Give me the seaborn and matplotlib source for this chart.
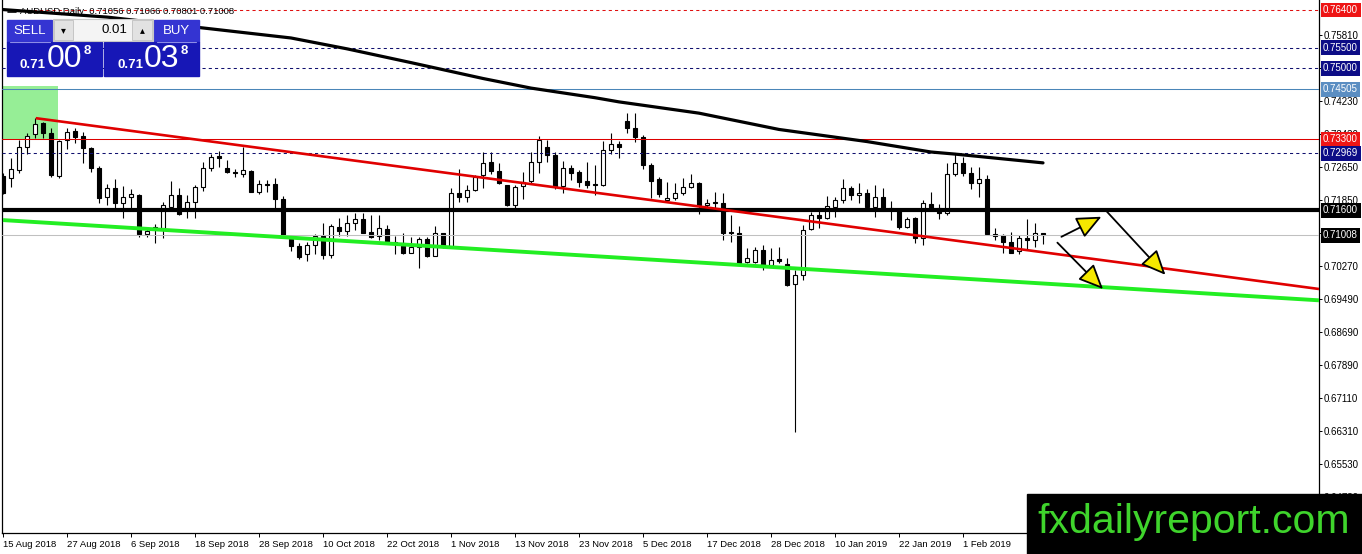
import numpy as np
import pandas as pd
import seaborn as sns
import matplotlib.pyplot as plt
from matplotlib.patches import Rectangle, FancyArrowPatch
from matplotlib.transforms import blended_transform_factory

sns.set_style("white")
plt.rcParams['font.family'] = ['Liberation Sans', 'DejaVu Sans']

W, H = 1362, 554

# AUDUSD daily candles (bar index 0 = 15 Aug 2018)
bar_open = [
    0.7243, 0.7238, 0.7257, 0.7312, 0.7343, 0.7369, 0.7346, 0.7243, 0.7329, 0.7350,
    0.7338, 0.7310, 0.7262, 0.7192, 0.7214, 0.7178, 0.7192, 0.7197, 0.7104, 0.7118,
    0.7118, 0.7168, 0.7197, 0.7164, 0.7180, 0.7216, 0.7262, 0.7290, 0.7262, 0.7252,
    0.7247, 0.7255, 0.7204, 0.7223, 0.7223, 0.7188, 0.7092, 0.7075, 0.7056, 0.7077,
    0.7099, 0.7053, 0.7121, 0.7111, 0.7130, 0.7140, 0.7109, 0.7099, 0.7116, 0.7085,
    0.7082, 0.7058, 0.7073, 0.7092, 0.7051, 0.7106, 0.7073, 0.7202, 0.7192, 0.7209,
    0.7245, 0.7276, 0.7255, 0.7221, 0.7173, 0.7219, 0.7231, 0.7276, 0.7312, 0.7293,
    0.7219, 0.7262, 0.7252, 0.7231, 0.7223, 0.7221, 0.7305, 0.7319, 0.7374, 0.7358,
    0.7336, 0.7269, 0.7235, 0.7185, 0.7190, 0.7202, 0.7216, 0.7226, 0.7173, 0.7180,
    0.7178, 0.7109, 0.7106, 0.7037, 0.7037, 0.7065, 0.7030, 0.7044, 0.7032, 0.6984,
    0.7006, 0.7116, 0.7149, 0.7142, 0.7168, 0.7185, 0.7214, 0.7197, 0.7202, 0.7168,
    0.7192, 0.7166, 0.7161, 0.7121, 0.7142, 0.7094, 0.7176, 0.7166, 0.7154, 0.7247,
    0.7274, 0.7250, 0.7226, 0.7235, 0.7104, 0.7101, 0.7085, 0.7063, 0.7094, 0.7089,
    0.71056]
bar_high = [
    0.7250, 0.7286, 0.7329, 0.7346, 0.7381, 0.7372, 0.7358, 0.7329, 0.7358, 0.7358,
    0.7348, 0.7312, 0.7267, 0.7223, 0.7235, 0.7219, 0.7212, 0.7200, 0.7116, 0.7128,
    0.7180, 0.7231, 0.7214, 0.7197, 0.7221, 0.7276, 0.7295, 0.7302, 0.7281, 0.7259,
    0.7312, 0.7257, 0.7233, 0.7233, 0.7238, 0.7195, 0.7101, 0.7082, 0.7085, 0.7104,
    0.7130, 0.7128, 0.7142, 0.7149, 0.7154, 0.7154, 0.7149, 0.7149, 0.7125, 0.7099,
    0.7106, 0.7097, 0.7097, 0.7097, 0.7123, 0.7106, 0.7214, 0.7259, 0.7221, 0.7245,
    0.7300, 0.7300, 0.7274, 0.7221, 0.7221, 0.7252, 0.7300, 0.7338, 0.7329, 0.7300,
    0.7278, 0.7269, 0.7257, 0.7276, 0.7269, 0.7326, 0.7346, 0.7326, 0.7393, 0.7393,
    0.7341, 0.7274, 0.7240, 0.7228, 0.7226, 0.7238, 0.7247, 0.7228, 0.7188, 0.7204,
    0.7202, 0.7149, 0.7123, 0.7070, 0.7073, 0.7077, 0.7070, 0.7073, 0.7046, 0.7018,
    0.7125, 0.7156, 0.7161, 0.7195, 0.7192, 0.7235, 0.7219, 0.7226, 0.7211, 0.7221,
    0.7214, 0.7183, 0.7164, 0.7144, 0.7144, 0.7185, 0.7204, 0.7176, 0.7274, 0.7298,
    0.7288, 0.7264, 0.7264, 0.7245, 0.7118, 0.7104, 0.7109, 0.7101, 0.7140, 0.7130,
    0.71066]
bar_low = [
    0.7200, 0.7216, 0.7250, 0.7295, 0.7334, 0.7334, 0.7240, 0.7238, 0.7307, 0.7322,
    0.7274, 0.7252, 0.7178, 0.7173, 0.7166, 0.7142, 0.7166, 0.7097, 0.7097, 0.7082,
    0.7094, 0.7166, 0.7149, 0.7142, 0.7142, 0.7207, 0.7255, 0.7264, 0.7250, 0.7240,
    0.7240, 0.7204, 0.7200, 0.7204, 0.7166, 0.7097, 0.7063, 0.7044, 0.7039, 0.7056,
    0.7044, 0.7046, 0.7099, 0.7099, 0.7113, 0.7106, 0.7094, 0.7089, 0.7082, 0.7056,
    0.7056, 0.7058, 0.7022, 0.7049, 0.7051, 0.7070, 0.7073, 0.7180, 0.7180, 0.7207,
    0.7214, 0.7247, 0.7223, 0.7171, 0.7161, 0.7188, 0.7226, 0.7250, 0.7276, 0.7212,
    0.7202, 0.7233, 0.7216, 0.7214, 0.7197, 0.7219, 0.7295, 0.7286, 0.7346, 0.7324,
    0.7259, 0.7190, 0.7192, 0.7180, 0.7185, 0.7197, 0.7214, 0.7152, 0.7168, 0.7164,
    0.7089, 0.7085, 0.7032, 0.7034, 0.7034, 0.7018, 0.7025, 0.7034, 0.6979, 0.6630,
    0.6994, 0.7113, 0.7118, 0.7140, 0.7144, 0.7178, 0.7185, 0.7178, 0.7164, 0.7144,
    0.7161, 0.7137, 0.7116, 0.7118, 0.7082, 0.7077, 0.7159, 0.7140, 0.7149, 0.7243,
    0.7243, 0.7212, 0.7192, 0.7101, 0.7089, 0.7058, 0.7058, 0.7056, 0.7068, 0.7073,
    0.70801]
bar_close = [
    0.7202, 0.7259, 0.7312, 0.7338, 0.7367, 0.7346, 0.7245, 0.7326, 0.7348, 0.7336,
    0.7310, 0.7262, 0.7190, 0.7214, 0.7178, 0.7192, 0.7200, 0.7104, 0.7111, 0.7121,
    0.7173, 0.7197, 0.7152, 0.7180, 0.7216, 0.7262, 0.7288, 0.7286, 0.7252, 0.7250,
    0.7257, 0.7204, 0.7223, 0.7221, 0.7188, 0.7101, 0.7075, 0.7049, 0.7077, 0.7099,
    0.7053, 0.7123, 0.7111, 0.7130, 0.7140, 0.7106, 0.7097, 0.7118, 0.7085, 0.7082,
    0.7058, 0.7073, 0.7092, 0.7051, 0.7106, 0.7073, 0.7202, 0.7192, 0.7209, 0.7240,
    0.7274, 0.7255, 0.7226, 0.7173, 0.7216, 0.7228, 0.7276, 0.7329, 0.7293, 0.7219,
    0.7262, 0.7250, 0.7228, 0.7221, 0.7221, 0.7305, 0.7319, 0.7312, 0.7358, 0.7336,
    0.7269, 0.7231, 0.7200, 0.7190, 0.7202, 0.7216, 0.7226, 0.7173, 0.7178, 0.7178,
    0.7106, 0.7106, 0.7034, 0.7046, 0.7065, 0.7030, 0.7042, 0.7039, 0.6982, 0.7006,
    0.7113, 0.7149, 0.7142, 0.7171, 0.7185, 0.7214, 0.7197, 0.7202, 0.7168, 0.7192,
    0.7161, 0.7164, 0.7121, 0.7140, 0.7094, 0.7178, 0.7161, 0.7154, 0.7247, 0.7274,
    0.7250, 0.7226, 0.7235, 0.7104, 0.7099, 0.7085, 0.7058, 0.7094, 0.7089, 0.7106,
    0.71008]

# slow moving average, read at a few bars
ma_idx = [0, 13, 25, 36, 43, 51, 60, 66, 74, 77, 87, 97, 108, 116, 119, 130]
ma_val = [0.7641, 0.7623, 0.7597, 0.7573, 0.7547, 0.7514, 0.7476, 0.7453,
          0.7430, 0.7420, 0.7393, 0.7354, 0.7325, 0.7300, 0.7295, 0.7274]

# trend lines (bar, price) anchor pairs
red_trend = [(4.1, 0.7381), (130, 0.7060)]
green_trend = [(0, 0.7137), (130, 0.69852)]

# horizontal levels: price, line colour, label colour, style, width
levels = [
    (0.76400, '#e01010', '#ee1515', (0, (3, 3)), 1.0),
    (0.75500, '#10106e', '#0c0c86', (0, (3, 3)), 1.0),
    (0.75000, '#10106e', '#0c0c86', (0, (3, 3)), 1.0),
    (0.74505, '#4a86b8', '#5b8ec2', '-', 1.0),
    (0.73300, '#dd0000', '#ee1515', '-', 1.0),
    (0.72969, '#10106e', '#0c0c86', (0, (3, 3)), 1.0),
    (0.71600, 'black', 'black', '-', 4.0),
    (0.71008, '#c0c0c0', 'black', '-', 1.0),
]

price_ticks = [0.75810, 0.75020, 0.74230, 0.73430, 0.72650, 0.71850, 0.71060,
               0.70270, 0.69490, 0.68690, 0.67890, 0.67110, 0.66310, 0.65530, 0.64730]
date_ticks = list(range(0, 121, 8))
date_labels = ['15 Aug 2018', '27 Aug 2018', '6 Sep 2018', '18 Sep 2018', '28 Sep 2018',
               '10 Oct 2018', '22 Oct 2018', '1 Nov 2018', '13 Nov 2018', '23 Nov 2018',
               '5 Dec 2018', '17 Dec 2018', '28 Dec 2018', '10 Jan 2019', '22 Jan 2019',
               '1 Feb 2019']

# arrows drawn on the chart (bar, price) -> (bar, price)
arrows = [((132.3, 0.7097), (137.3, 0.7145)),
          ((138.0, 0.7157), (145.3, 0.7006)),
          ((131.8, 0.7083), (137.5, 0.6972))]

df = pd.DataFrame({'o': bar_open, 'h': bar_high, 'l': bar_low, 'c': bar_close})
df['idx'] = np.arange(len(df))
df['bull'] = df['c'] >= df['o']

fig = plt.figure(figsize=(W / 100, H / 100), dpi=100)
ax = fig.add_axes([2 / W, (H - 533) / H, 1317 / W, 533 / H])
ax.set_xlim(-0.125, 164.5)
ax.set_ylim(0.63879, 0.76639)

# green zone at the top left
ax.add_patch(Rectangle((-0.2, 0.7329), 7.1, 0.7458 - 0.7329, color='#96ee96', lw=0, zorder=0.5))

# candles
ax.vlines(df['idx'], df['l'], df['h'], color='black', lw=0.8, zorder=2)
bottoms = np.minimum(df['o'], df['c'])
heights = np.abs(df['c'] - df['o'])
ax.bar(df['idx'], heights, bottom=bottoms, width=0.62,
       color=np.where(df['bull'], 'white', 'black'), edgecolor='black', linewidth=0.8, zorder=3)

# horizontal lines
for price, col, lab_col, ls, lw in levels:
    ax.axhline(price, color=col, ls=ls, lw=lw * 0.75, zorder=4)

# trend lines extended to the right edge
for (x0, y0), (x1, y1), col, lw in [(red_trend[0], red_trend[1], '#e00000', 1.9),
                                     (green_trend[0], green_trend[1], '#22ee22', 2.8)]:
    slope = (y1 - y0) / (x1 - x0)
    xe = 164.5
    ax.plot([x0, xe], [y0, y0 + slope * (xe - x0)], color=col, lw=lw, zorder=4.5, solid_capstyle='butt')

sns.lineplot(x=ma_idx, y=ma_val, ax=ax, color='black', lw=2.3, zorder=4.6)

for (a, b) in arrows:
    ax.add_patch(FancyArrowPatch(a, b, arrowstyle='-|>,head_length=0.85,head_width=0.38',
                                 mutation_scale=18, facecolor='#f5e800', edgecolor='black',
                                 lw=1.3, zorder=6, shrinkA=0, shrinkB=0))

# axes styling
ax.spines['top'].set_visible(False)
for s in ['left', 'right', 'bottom']:
    ax.spines[s].set_color('black')
    ax.spines[s].set_linewidth(0.9)
ax.yaxis.tick_right()
ax.set_yticks(price_ticks)
ax.set_yticklabels([f'{v:.5f}' for v in price_ticks])
ax.tick_params(axis='y', right=True, left=False, length=2.2, width=0.7, pad=1.0, labelsize=7, colors='black')
ax.set_xticks(date_ticks)
ax.set_xticklabels(date_labels, ha='left')
ax.tick_params(axis='x', bottom=True, length=3, width=0.7, pad=2, labelsize=6.8, colors='black')
ax.set_xlabel('')
ax.set_ylabel('')

# level labels on the price scale
tr = blended_transform_factory(ax.transAxes, ax.transData)
for price, col, lab_col, ls, lw in levels:
    ax.text(1.0031, price, f'{price:.5f}', transform=tr, ha='left', va='center', color='white',
            fontsize=7, clip_on=False, zorder=10,
            bbox=dict(boxstyle='square,pad=0.25', fc=lab_col, ec='none'))

# overlay in pixel coordinates for panel, title and watermark
ov = fig.add_axes([0, 0, 1, 1], zorder=5)
ov.set_xlim(0, W)
ov.set_ylim(H, 0)
ov.axis('off')
ov.patch.set_alpha(0)

ov.text(20, 11.5, 'AUDUSD,Daily  0.71056 0.71066 0.70801 0.71008', fontsize=6.8, va='center', ha='left', color='black')
ov.plot([8, 16], [11.5, 11.5], color='black', lw=1.2)

# one-click trading panel
ov.add_patch(Rectangle((7, 20), 45, 22, color='#3434d2'))
ov.add_patch(Rectangle((154, 20), 45, 22, color='#3434d2'))
ov.add_patch(Rectangle((7, 42), 95, 34, color='#1717b6'))
ov.add_patch(Rectangle((104, 42), 95, 34, color='#1717b6'))
ov.plot([10, 50], [41.5, 41.5], color='#8c8ce6', lw=0.8)
ov.plot([157, 196], [41.5, 41.5], color='#8c8ce6', lw=0.8)
ov.add_patch(Rectangle((53, 19), 100, 22, fc='#f4f4f4', ec='#c8c8c8', lw=0.8))
ov.add_patch(Rectangle((54, 20), 19, 20, fc='#e2e2e2', ec='#c0c0c0', lw=0.6))
ov.add_patch(Rectangle((132, 20), 20, 20, fc='#e2e2e2', ec='#c0c0c0', lw=0.6))
ov.text(63.5, 30, '\u25be', fontsize=7, ha='center', va='center', color='black', family='DejaVu Sans')
ov.text(142, 30, '\u25b4', fontsize=7, ha='center', va='center', color='black', family='DejaVu Sans')
ov.text(127, 30, '0.01', fontsize=9.5, ha='right', va='center', color='black')
ov.text(29.5, 30.5, 'SELL', fontsize=9.5, ha='center', va='center', color='white')
ov.text(176.5, 30.5, 'BUY', fontsize=9.5, ha='center', va='center', color='white')
for x0, big in [(20, '00'), (117, '03')]:
    ov.text(x0, 65, '0.71', fontsize=9.5, fontweight='bold', ha='left', va='center', color='white')
    ov.text(x0 + 27, 59, big, fontsize=23, ha='left', va='center', color='white')
    ov.text(x0 + 64, 51, '8', fontsize=9.5, fontweight='bold', ha='left', va='center', color='white')

# watermark
ov.add_patch(Rectangle((1027, 494), 335, 60, color='black'))
ov.text(1194, 522, 'fxdailyreport.com', fontsize=29.5, ha='center', va='center', color='#3fd42c')

fig.savefig('out.png', dpi=100, facecolor='white')
